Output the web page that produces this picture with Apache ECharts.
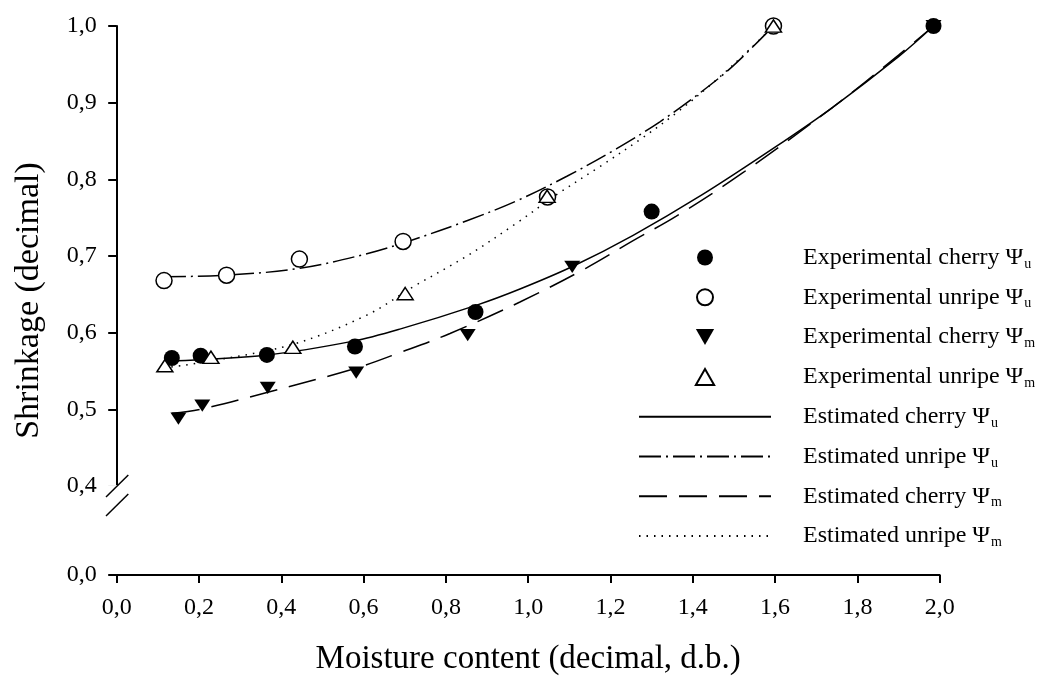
<!DOCTYPE html>
<html><head><meta charset="utf-8">
<script src="https://cdn.jsdelivr.net/npm/echarts@6/dist/echarts.min.js"></script>
<style>html,body{margin:0;padding:0;background:#fff}#c{width:1038px;height:680px}</style>
</head><body><div id="c"></div>
<script>
// ---- data ----
const legendBase = ['Experimental cherry Ψ','Experimental unripe Ψ','Experimental cherry Ψ','Experimental unripe Ψ',
  'Estimated cherry Ψ','Estimated unripe Ψ','Estimated cherry Ψ','Estimated unripe Ψ'];
const legendSub = ['u','u','m','m','u','u','m','m'];

const expCherryU = [[0.134,0.567],[0.204,0.570],[0.365,0.571],[0.579,0.582],[0.872,0.627],[1.300,0.758],[1.985,1.0]];
const expUnripeU = [[0.115,0.668],[0.267,0.675],[0.444,0.696],[0.696,0.719],[1.047,0.777],[1.596,1.0]];
const expCherryM = [[0.150,0.488],[0.208,0.505],[0.367,0.528],[0.582,0.548],[0.853,0.597],[1.107,0.686],[1.985,1.0]];
const expUnripeM = [[0.117,0.557],[0.229,0.568],[0.428,0.581],[0.701,0.651],[1.046,0.778],[1.596,1.0]];

const estCherryU = [[0.13,0.563],[0.365,0.571],[0.575,0.589],[0.69,0.605],[0.875,0.636],[0.98,0.657],[1.11,0.687],
  [1.255,0.727],[1.42,0.779],[1.60,0.842],[1.74,0.894],[1.90,0.960],[1.985,1.0]];
const estUnripeU = [[0.115,0.673],[0.267,0.675],[0.445,0.684],[0.608,0.703],[0.713,0.720],[0.851,0.746],[0.972,0.772],
  [1.094,0.804],[1.215,0.840],[1.32,0.875],[1.418,0.913],[1.498,0.948],[1.596,1.0]];
const estCherryM = [[0.134,0.495],[0.202,0.500],[0.365,0.522],[0.583,0.554],[0.688,0.574],[0.81,0.599],[0.98,0.640],
  [1.14,0.684],[1.255,0.720],[1.36,0.752],[1.52,0.808],[1.74,0.894],[1.90,0.962],[1.985,1.0]];
const estUnripeM = [[0.115,0.554],[0.227,0.563],[0.429,0.585],[0.608,0.623],[0.721,0.660],[0.851,0.700],[0.972,0.743],
  [1.069,0.780],[1.175,0.817],[1.272,0.852],[1.361,0.887],[1.458,0.930],[1.539,0.970],[1.596,1.0]];

const xTitle = 'Moisture content (decimal, d.b.)';
const yTitle = 'Shrinkage (decimal)';

// ---- chart ----
const FONT = '"Liberation Serif","Times New Roman",serif';
const names = legendBase.map((b, i) => b + legendSub[i]);
const fmt = v => (Math.round(v * 10) / 10).toFixed(1).replace('.', ',');
const chart = echarts.init(document.getElementById('c'), null, {renderer: 'canvas'});

const lineS = (i, data, dash) => ({
  name: names[i], type: 'line', data: data, smooth: 0.35, symbol: 'none', showSymbol: false, z: 2,
  lineStyle: {color: '#000', width: 1.5, type: dash}, itemStyle: {color: 'rgba(0,0,0,0)'}
});

chart.setOption({
  animation: false,
  backgroundColor: '#fff',
  grid: {left: 116.7, right: 98.3, top: 26, bottom: 105, outerBoundsMode: 'none'},
  xAxis: {
    type: 'value', min: 0, max: 2, interval: 0.2,
    name: xTitle, nameLocation: 'middle', nameGap: 68,
    nameTextStyle: {fontFamily: FONT, fontSize: 33, color: '#000'},
    axisLine: {show: true, onZero: false, lineStyle: {color: '#000', width: 2}},
    axisTick: {show: true, length: 8, lineStyle: {color: '#000', width: 2}},
    axisLabel: {fontFamily: FONT, fontSize: 24, color: '#000', margin: 21, formatter: fmt},
    splitLine: {show: false}
  },
  yAxis: {
    type: 'value', min: 0, max: 1, interval: 0.1,
    breaks: [{start: 0, end: 0.4, gap: 0.116}],
    breakArea: {show: false},
    name: yTitle, nameLocation: 'middle', nameGap: 71,
    nameTextStyle: {fontFamily: FONT, fontSize: 34, color: '#000'},
    axisLine: {show: true, onZero: false, lineStyle: {color: '#000', width: 2}},
    axisTick: {show: true, length: 8.5, lineStyle: {color: '#000', width: 2}},
    axisLabel: {fontFamily: FONT, fontSize: 24, color: '#000', margin: 20, formatter: fmt},
    splitLine: {show: false}
  },
  legend: {
    orient: 'vertical', left: 633, top: 240.5, itemWidth: 132, itemHeight: 16, itemGap: 14.3,
    selectedMode: false,
    data: names,
    formatter: function (name) {
      const i = names.indexOf(name);
      return legendBase[i] + '{s|' + legendSub[i] + '}';
    },
    textStyle: {
      fontFamily: FONT, fontSize: 24, color: '#000', padding: [0, 0, 0, 27],
      rich: {s: {fontFamily: FONT, fontSize: 14, color: '#000', padding: [13, 0, 0, 1]}}
    }
  },
  series: [
    {name: names[0], type: 'scatter', data: expCherryU, symbol: 'circle', symbolSize: 16, symbolKeepAspect: true,
      itemStyle: {color: '#000', opacity: 1}, z: 3},
    {name: names[1], type: 'scatter', data: expUnripeU, symbol: 'circle', symbolSize: 16, symbolKeepAspect: true,
      itemStyle: {color: '#fff', borderColor: '#000', borderWidth: 1.5, opacity: 1}, z: 3},
    {name: names[2], type: 'scatter', data: expCherryM, symbol: 'path://M0,0L16,0L8,14Z', symbolSize: [16, 14], symbolKeepAspect: true,
      itemStyle: {color: '#000', opacity: 1}, z: 3},
    {name: names[3], type: 'scatter', data: expUnripeM, symbol: 'path://M8,0L16,14L0,14Z', symbolSize: [16, 14], symbolKeepAspect: true,
      itemStyle: {color: '#fff', borderColor: '#000', borderWidth: 1.5, opacity: 1}, z: 3},
    lineS(4, estCherryU, 'solid'),
    lineS(5, estUnripeU, [22, 5, 2, 5]),
    lineS(6, estCherryM, [28, 12]),
    lineS(7, estUnripeM, [1.5, 6])
  ]
});

// axis break marks (decoration) positioned from the axis scales
const ax = chart.convertToPixel({xAxisIndex: 0}, 0);
const ay = chart.convertToPixel({yAxisIndex: 0}, 0.4);
chart.setOption({
  graphic: [
    {type: 'rect', shape: {x: ax - 10, y: ay - 1, width: 13, height: 20}, style: {fill: '#fff'}, z: 50},
    {type: 'line', shape: {x1: ax - 10.7, y1: ay + 11, x2: ax + 11.6, y2: ay - 11}, style: {stroke: '#000', lineWidth: 1.5}, z: 51},
    {type: 'line', shape: {x1: ax - 10.7, y1: ay + 30, x2: ax + 11.6, y2: ay + 8}, style: {stroke: '#000', lineWidth: 1.5}, z: 51}
  ]
});
</script>
</body></html>
